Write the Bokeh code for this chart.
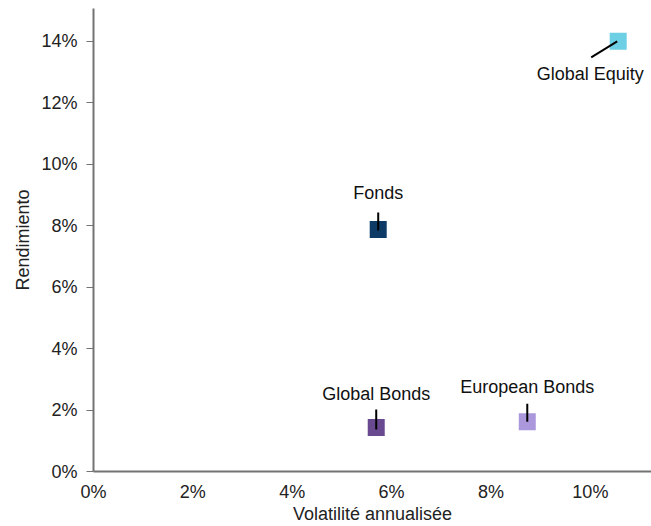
from bokeh.plotting import figure
from bokeh.models import Range1d, FixedTicker, ColumnDataSource
from bokeh.embed import file_html
from bokeh.resources import INLINE
from bokeh.core.properties import value

# ---- data (percent) ----
names = ["Fonds", "Global Bonds", "European Bonds", "Global Equity"]
volatility = [5.73, 5.69, 8.73, 10.56]
returns = [7.88, 1.43, 1.62, 14.0]
colors = ["#0d3b66", "#694a91", "#ab97dc", "#6dcfe3"]
x_ticks = [0, 2, 4, 6, 8, 10]
y_ticks = [0, 2, 4, 6, 8, 10, 12, 14]
x_title = "Volatilité annualisée"
y_title = "Rendimiento"

# ---- layout ----
W, H = 651, 526
LEFT, BOTTOM, TOP = 93, 55, 8
X_MAX, Y_MAX = 11.23, 15.07
FONT = "Liberation Sans"
FS = "18px"
AXIS_COLOR = "#737373"

frame_w = W - LEFT
frame_h = H - BOTTOM - TOP
px_x = frame_w / X_MAX
px_y = frame_h / Y_MAX

# label and leader-line offsets in pixels (dx right, dy up)
label_off = [(0, 36), (0, 34), (0, 35), (-28, -33)]
line_off = [((0, -1), (0, 17)), ((0, -2), (0, 18)), ((0, 0), (0, 18)), ((-1, 0), (-27, -16))]

p = figure(width=W, height=H, output_backend="svg", toolbar_location=None,
           x_range=Range1d(0, X_MAX), y_range=Range1d(0, Y_MAX),
           min_border_left=LEFT, min_border_bottom=BOTTOM, min_border_top=TOP, min_border_right=0)
p.outline_line_color = None
p.grid.visible = False
p.background_fill_color = "white"

for ax, ticks in ((p.xaxis[0], x_ticks), (p.yaxis[0], y_ticks)):
    ax.ticker = FixedTicker(ticks=ticks)
    ax.major_label_overrides = {t: f"{t}%" for t in ticks}
    ax.axis_line_color = AXIS_COLOR
    ax.axis_line_width = 2
    ax.major_tick_line_color = AXIS_COLOR
    ax.major_tick_line_width = 1
    ax.minor_tick_line_color = None
    ax.major_label_text_font = FONT
    ax.major_label_text_font_size = FS
    ax.major_label_text_color = "#222222"
    ax.axis_label_text_font = FONT
    ax.axis_label_text_font_size = FS
    ax.axis_label_text_font_style = "normal"
    ax.axis_label_text_color = "#222222"

p.xaxis.axis_label = x_title
p.yaxis.axis_label = y_title
p.xaxis.major_tick_out = 0
p.xaxis.major_tick_in = 0
p.xaxis.major_label_standoff = 10
p.xaxis.axis_label_standoff = -1
p.yaxis.major_tick_out = 7
p.yaxis.major_tick_in = 0
p.yaxis.major_label_standoff = 9
p.yaxis.axis_label_standoff = 5

# leader lines
x0 = [v + a[0] / px_x for v, (a, b) in zip(volatility, line_off)]
y0 = [r + a[1] / px_y for r, (a, b) in zip(returns, line_off)]
x1 = [v + b[0] / px_x for v, (a, b) in zip(volatility, line_off)]
y1 = [r + b[1] / px_y for r, (a, b) in zip(returns, line_off)]
p.segment(x0=x0, y0=y0, x1=x1, y1=y1, line_color="black", line_width=2)

src = ColumnDataSource(dict(x=volatility, y=returns, c=colors, name=names,
                            dx=[o[0] for o in label_off], dy=[-o[1] for o in label_off]))
p.scatter(x="x", y="y", source=src, marker="square", size=17, fill_color="c",
          line_color=None, level="underlay")
p.text(x="x", y="y", text="name", source=src, x_offset="dx", y_offset="dy",
       text_align="center", text_baseline="middle", text_font=value(FONT),
       text_font_size=FS, text_color="#111111")

open("out.html", "w").write(file_html(p, INLINE))
